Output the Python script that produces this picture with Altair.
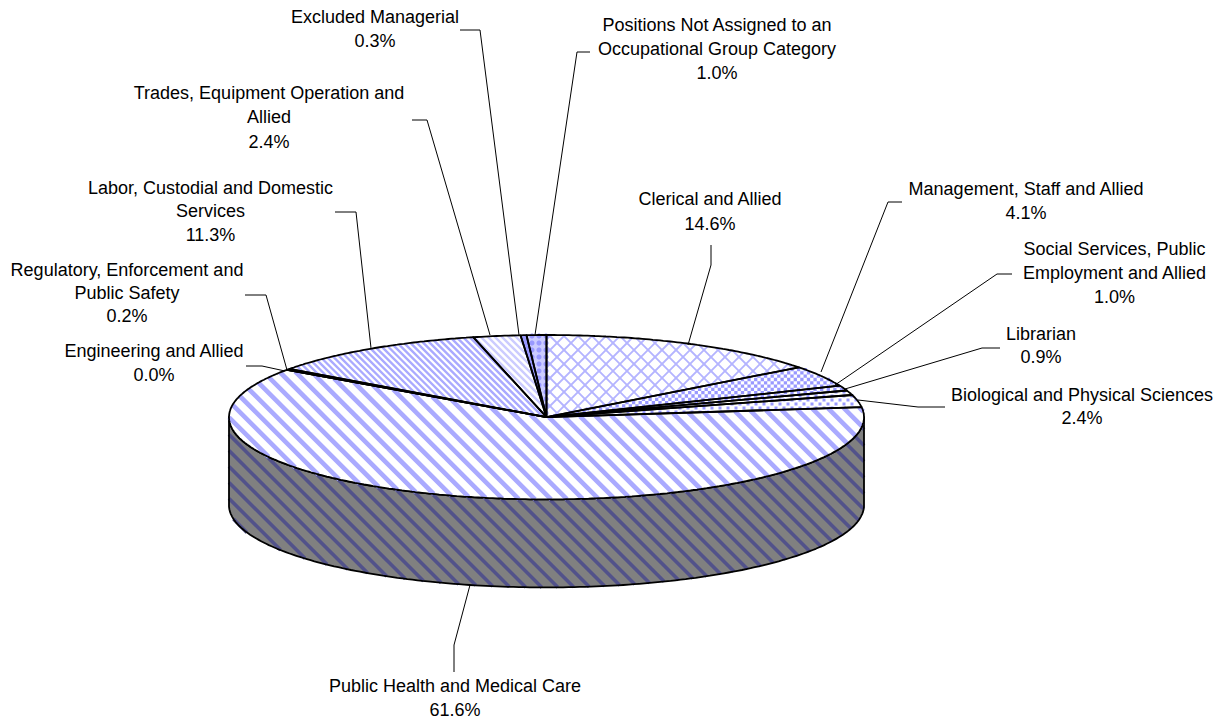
import math
import altair as alt

# ---- values -----------------------------------------------------------
categories = ["Clerical and Allied", "Management, Staff and Allied",
              "Social Services, Public Employment and Allied", "Librarian",
              "Biological and Physical Sciences", "Public Health and Medical Care",
              "Engineering and Allied", "Regulatory, Enforcement and Public Safety",
              "Labor, Custodial and Domestic Services",
              "Trades, Equipment Operation and Allied", "Excluded Managerial",
              "Positions Not Assigned to an Occupational Group Category"]
shares = [14.6, 4.1, 1.0, 0.9, 2.4, 61.6, 0.0, 0.2, 11.3, 2.4, 0.3, 1.0]

label_lines = [["Clerical and Allied", "14.6%"],
               ["Management, Staff and Allied", "4.1%"],
               ["Social Services, Public", "Employment and Allied", "1.0%"],
               ["Librarian", "0.9%"],
               ["Biological and Physical Sciences", "2.4%"],
               ["Public Health and Medical Care", "61.6%"],
               ["Engineering and Allied", "0.0%"],
               ["Regulatory, Enforcement and", "Public Safety", "0.2%"],
               ["Labor, Custodial and Domestic", "Services", "11.3%"],
               ["Trades, Equipment Operation and", "Allied", "2.4%"],
               ["Excluded Managerial", "0.3%"],
               ["Positions Not Assigned to an", "Occupational Group Category", "1.0%"]]
label_x = [710, 1026, 1114.5, 1041, 1082, 455, 154, 127, 210.5, 269, 375, 717]
label_y = [[200, 225], [190, 214], [250, 274, 298], [335, 358], [396, 419], [687, 711],
           [352, 376], [271, 294, 317], [189, 212, 236], [94, 118, 143], [18, 42], [26, 50, 74]]
leaders = [[(711, 245), (711, 265), (688, 345)],
           [(902, 202), (888, 202), (821, 372)],
           [(1012, 274), (997, 274), (835, 385)],
           [(1000, 348), (982, 348), (845, 389)],
           [(945, 407), (918, 407), (858, 400)],
           [(454, 672), (454, 645), (470, 585)],
           [(246, 366), (262, 366), (285, 371)],
           [(245, 295), (266, 295), (287, 370)],
           [(335, 212), (356, 212), (371, 348)],
           [(412, 120), (427, 120), (490, 335)],
           [(460, 30), (480, 30), (519, 335)],
           [(590, 52), (577, 52), (535, 335)]]

CX, CY, RX, RY, DEPTH = 546.5, 417.2, 317.5, 82.2, 88
BLUE, SOFT, PALE, WHITE = "#9999FF", "#AAAAFF", "#CCCCFF", "#FFFFFF"


def rim(theta_deg):
    t = math.radians(theta_deg)
    return (CX + RX * math.sin(t), CY - RY * math.cos(t))


def r(p):
    return [round(p[0], 1), round(p[1], 1)]


def wedge(a, b):
    n = max(2, int((b - a) * 1.5))
    pts = [(CX, CY)] + [rim(a + (b - a) * i / n) for i in range(n + 1)] + [(CX, CY)]
    return pts


def hits(poly, ax, ay, dx, dy):
    """Intervals of the line (ax,ay)+s(dx,dy) inside the polygon (even-odd)."""
    ss = []
    for (x1, y1), (x2, y2) in zip(poly, poly[1:]):
        ex, ey = x2 - x1, y2 - y1
        den = dx * ey - dy * ex
        if abs(den) < 1e-12:
            continue
        s = ((x1 - ax) * ey - (y1 - ay) * ex) / den
        u = ((x1 - ax) * dy - (y1 - ay) * dx) / den
        if 0 <= u < 1:
            ss.append(s)
    ss.sort()
    return [(ss[i], ss[i + 1]) for i in range(0, len(ss) - 1, 2)]


def stripes(poly, period, phase=0, sign=1):
    """Diagonal hatch clipped to the polygon; period is measured along x."""
    segs = []
    x0 = -1200 + phase
    while x0 < 2400:
        for s1, s2 in hits(poly, x0, 0, sign, 1):
            segs.append([r((x0 + sign * s1, s1)), r((x0 + sign * s2, s2))])
        x0 += period
    return {"type": "MultiLineString", "coordinates": segs}


def inside(poly, x, y):
    c = False
    for (x1, y1), (x2, y2) in zip(poly, poly[1:]):
        if (y1 > y) != (y2 > y) and x < x1 + (y - y1) * (x2 - x1) / (y2 - y1):
            c = not c
    return c


def dots(poly, size, step, checker=True, circle=False):
    xs = [p[0] for p in poly]
    ys = [p[1] for p in poly]
    out = []
    y = math.floor(min(ys) / step) * step
    row = 0
    while y <= max(ys):
        x = math.floor(min(xs) / step) * step
        col = 0
        while x <= max(xs):
            if (not checker or (row + col) % 2 == 0) and inside(poly, x, y):
                if circle:
                    ring = [r((x + size * math.cos(k * math.pi / 5), y + size * math.sin(k * math.pi / 5)))
                            for k in range(11)]
                else:
                    h = size / 2
                    ring = [[x - h, y - h], [x + h, y - h], [x + h, y + h], [x - h, y + h], [x - h, y - h]]
                out.append([ring])
            x += step
            col += 1
        y += step
        row += 1
    return {"type": "MultiPolygon", "coordinates": out}


def shape(geom, fill=None, stroke=None, sw=1.0, join="miter"):
    kw = {"strokeWidth": sw, "strokeCap": "butt", "strokeJoin": join}
    if fill:
        kw.update(filled=True, fill=fill)
    else:
        kw.update(filled=False, fill="transparent")
    if stroke:
        kw["stroke"] = stroke
    else:
        kw["strokeWidth"] = 0
    return alt.Chart(alt.Data(values=[{"type": "Feature", "properties": {}, "geometry": geom}])).mark_geoshape(**kw)


def polygon(pts):
    return {"type": "Polygon", "coordinates": [[r(p) for p in pts]]}


layers = []

# extruded side of the disc
lower = [rim(90 + i) for i in range(181)]
side = lower + [(x, y + DEPTH) for x, y in reversed(lower)] + [lower[0]]
layers.append(shape(polygon(side), fill="#808080"))
layers.append(shape(stripes(side, 16, phase=2.5), stroke="#52528A", sw=3.6))
layers.append(shape(polygon(side), stroke="#000000", sw=1.8, join="round"))

# top face: one pattern per slice, in the order of the shares
total = sum(shares)
angle = 0.0
outlines = []
for cat, share in zip(categories, shares):
    a, b = angle, angle + share / total * 360
    angle = b
    poly = wedge(a, b)
    bg = WHITE
    if cat.startswith("Excluded"):
        bg = BLUE
    elif cat.startswith("Positions"):
        bg = PALE
    elif cat.startswith(("Regulatory", "Engineering")):
        bg = BLUE
    layers.append(shape(polygon(poly), fill=bg))
    if cat.startswith("Public Health"):
        layers.append(shape(stripes(poly, 16, phase=3.7), stroke=SOFT, sw=4.6))
    elif cat.startswith("Labor"):
        layers.append(shape(stripes(poly, 6.5), stroke=SOFT, sw=2.4))
    elif cat.startswith("Trades"):
        layers.append(shape(stripes(poly, 7), stroke=PALE, sw=2.4))
    elif cat.startswith("Clerical"):
        layers.append(shape(stripes(poly, 14, sign=1), stroke="#B4B4FF", sw=1.8))
        layers.append(shape(stripes(poly, 14, sign=-1), stroke="#B4B4FF", sw=1.8))
    elif cat.startswith(("Management", "Social")):
        layers.append(shape(dots(poly, 3.3, 3.3), fill=BLUE))
    elif cat.startswith(("Biological", "Librarian")):
        layers.append(shape(dots(poly, 3, 4), fill=BLUE))
    elif cat.startswith("Positions"):
        layers.append(shape(dots(poly, 2.6, 7, checker=False, circle=True), fill=BLUE))
    outlines.append(poly)

for poly in outlines:
    layers.append(shape(polygon(poly), stroke="#000000", sw=1.8, join="round"))

# leader lines
layers.append(shape({"type": "MultiLineString", "coordinates": [[list(p) for p in l] for l in leaders]},
                    stroke="#000000", sw=1.0))

# labels
rows = []
for lines, x, ys in zip(label_lines, label_x, label_y):
    for line, y in zip(lines, ys):
        rows.append({"t": line, "x": x, "y": y})
text = alt.Chart(alt.Data(values=rows)).mark_text(
    font="Liberation Sans", fontSize=18, align="center", baseline="middle", color="#000000"
).encode(longitude="x:Q", latitude="y:Q", text="t:N")
layers.append(text)

chart = (alt.layer(*layers)
         .project(type="identity", scale=1, translate=[-8, -8])
         .properties(width=1212, height=713, padding=0, background="#FFFFFF",
                     autosize=alt.AutoSizeParams(type="none"))
         .configure_view(stroke=None))
chart.save("out.html", embed_options={"renderer": "svg", "actions": False})
